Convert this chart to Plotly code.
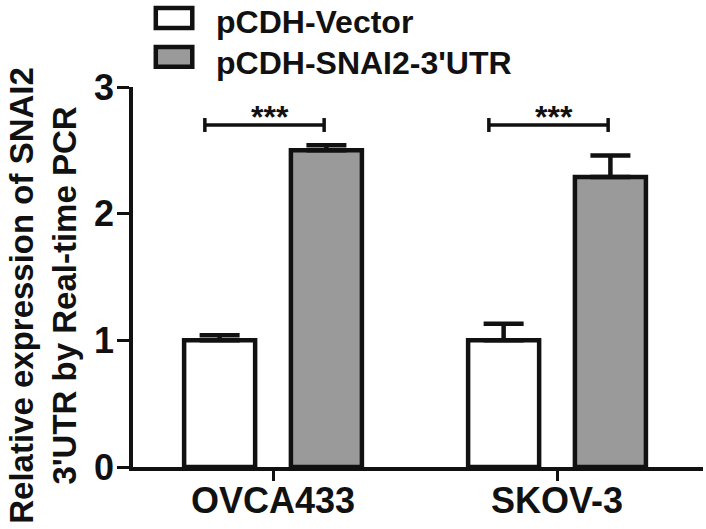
import plotly.graph_objects as go

# data
cell_lines = ["OVCA433", "SKOV-3"]
vector_mean = [1.00, 1.00]
vector_err = [0.04, 0.13]
snai2_mean = [2.50, 2.29]
snai2_err = [0.04, 0.17]
sig_labels = ["***", "***"]
y_ticks = [0, 1, 2, 3]

FONT = "Arial, Liberation Sans, Helvetica, sans-serif"
INK = "#111111"

fig = go.Figure()

fig.add_trace(go.Bar(
    x=cell_lines, y=vector_mean, name="pCDH-Vector",
    marker=dict(color="white", line=dict(color=INK, width=4.5)),
    error_y=dict(type="data", array=vector_err, arrayminus=[0, 0], symmetric=False,
                 color=INK, thickness=4.5, width=20),
))
fig.add_trace(go.Bar(
    x=cell_lines, y=snai2_mean, name="pCDH-SNAI2-3'UTR",
    marker=dict(color="#9a9a9a", line=dict(color=INK, width=4.5)),
    error_y=dict(type="data", array=snai2_err, arrayminus=[0, 0], symmetric=False,
                 color=INK, thickness=4.5, width=20),
))

shapes = []
annotations = []

# significance brackets
for i, lab in enumerate(sig_labels):
    x0, x1, yb = i - 0.24, i + 0.18, 2.70
    shapes.append(dict(type="line", xref="x", yref="y", x0=x0, x1=x1, y0=yb, y1=yb,
                       line=dict(color=INK, width=3.5)))
    for xx in (x0, x1):
        shapes.append(dict(type="line", xref="x", yref="y", x0=xx, x1=xx,
                           y0=yb - 0.055, y1=yb + 0.055,
                           line=dict(color=INK, width=3.5)))
    annotations.append(dict(x=i - 0.01, y=yb, xref="x", yref="y", text=lab,
                            showarrow=False, yanchor="bottom", yshift=-12,
                            font=dict(family=FONT, size=32, color=INK, weight="bold")))

# category labels (placed close under the axis like the original)
for c in cell_lines:
    annotations.append(dict(x=c, y=0, xref="x", yref="y", text=c, showarrow=False,
                            yanchor="middle", yshift=-33,
                            font=dict(family=FONT, size=36, color=INK, weight="bold")))

# manual legend with wide swatches
legend_rows = [("pCDH-Vector", "white", 1.208, 1.155, 1.172),
               ("pCDH-SNAI2-3'UTR", "#9a9a9a", 1.105, 1.053, 1.063)]
for name, col, ytop, ybot, ytext in legend_rows:
    shapes.append(dict(type="rect", xref="paper", yref="paper", x0=0.040, x1=0.104,
                       y0=ybot, y1=ytop, fillcolor=col,
                       line=dict(color=INK, width=4.5)))
    annotations.append(dict(x=0.142, y=ytext, xref="paper", yref="paper",
                            text=name, showarrow=False,
                            xanchor="left", yanchor="middle",
                            font=dict(family=FONT, size=32, color=INK, weight="bold")))

# y-axis title
annotations.append(dict(x=-0.158, y=0.453, xref="paper", yref="paper",
                        text="Relative expression of SNAI2<br>3'UTR by Real-time PCR",
                        showarrow=False, textangle=-90, xanchor="center", yanchor="middle",
                        font=dict(family=FONT, size=33, color=INK, weight="bold")))

fig.update_layout(
    width=706, height=529,
    margin=dict(l=133, r=3, t=87, b=62),
    paper_bgcolor="white", plot_bgcolor="white",
    barmode="group", bargap=0.248, bargroupgap=0.335,
    showlegend=False,
    shapes=shapes, annotations=annotations,
    font=dict(family=FONT, color=INK),
)
fig.update_xaxes(
    range=[-0.493, 1.514], showgrid=False, zeroline=False,
    showline=True, linecolor=INK, linewidth=3.5,
    ticks="outside", ticklen=10, tickwidth=3, tickcolor=INK,
    showticklabels=False,
)
fig.update_yaxes(
    range=[0, 3], tickvals=y_ticks, showgrid=False, zeroline=False,
    showline=True, linecolor=INK, linewidth=3.5,
    ticks="outside", ticklen=12, tickwidth=3, tickcolor=INK,
    ticklabelstandoff=-4,
    tickfont=dict(family=FONT, size=36, color=INK, weight="bold"),
)

# drop the default page margin so the figure sits at the window's top-left corner
fig.write_html("out.html", config={"displayModeBar": False},
               post_script="document.body.style.margin='0';")
